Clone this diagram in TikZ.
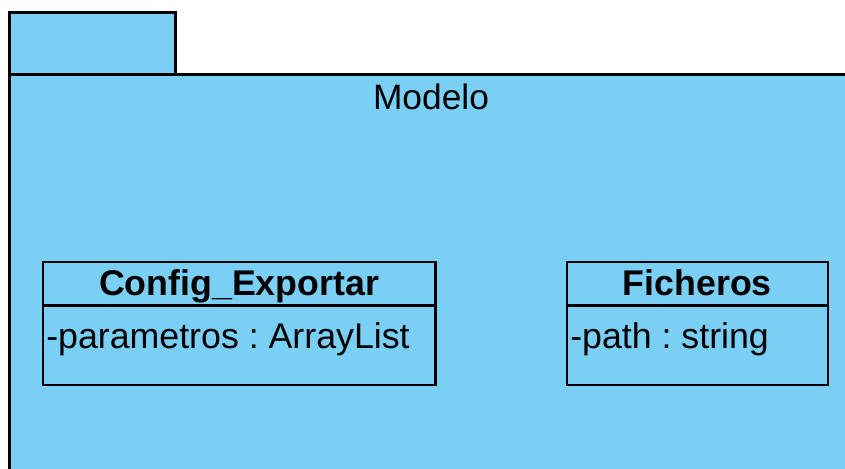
\documentclass[tikz,border=0pt]{standalone}
\usepackage{fontspec}
\setmainfont{Liberation Sans}
\frenchspacing
\definecolor{pkgblue}{RGB}{122,207,244}
\tikzset{
  pkgshape/.style={draw=black, fill=pkgblue, line width=2.25pt},
  classbox/.style={draw=black, line width=1.9pt, inner sep=0pt, anchor=north west},
  classname/.style={font=\fontsize{26.8pt}{30pt}\selectfont\bfseries, inner sep=0pt, anchor=base},
  attrtext/.style={font=\fontsize{26.8pt}{30pt}\selectfont\frenchspacing, inner sep=0pt, anchor=base west},
  pkglabel/.style={font=\fontsize{26.5pt}{30pt}\selectfont, inner sep=0pt, anchor=base}
}
\begin{document}
\begin{tikzpicture}[x=0.75pt, y=-0.75pt]
\useasboundingbox (0,0) rectangle (845,468);
% package frame: tab and body
\begin{scope}
  \clip (0,0) rectangle (845,468);
  \draw[pkgshape] (9.5,12.5) rectangle (175.5,74.5);
  \draw[pkgshape] (9.5,74.5) rectangle (853,490);
\end{scope}
\node[pkglabel] (pkgname) at (431,109) {Modelo};

% class Config_Exportar
\node[classbox, minimum width=294.4pt, minimum height=92.25pt] (cfg) at (41.5,260.5) {};
\draw[line width=1.9pt] (cfg.west |- 0,305.5) -- (cfg.east |- 0,305.5);
\node[classname] (cfgname) at (cfg.north |- 0,295) {Config\_Exportar};
\node[attrtext] (cfgattr) at (46,348) {-parametros : ArrayList};

% class Ficheros
\node[classbox, minimum width=195.75pt, minimum height=92.25pt] (fich) at (565.5,260.5) {};
\draw[line width=1.9pt] (fich.west |- 0,305.5) -- (fich.east |- 0,305.5);
\node[classname] (fichname) at (fich.north |- 0,295) {Ficheros};
\node[attrtext] (fichattr) at (570,348) {-path : string};
\end{tikzpicture}
\end{document}
